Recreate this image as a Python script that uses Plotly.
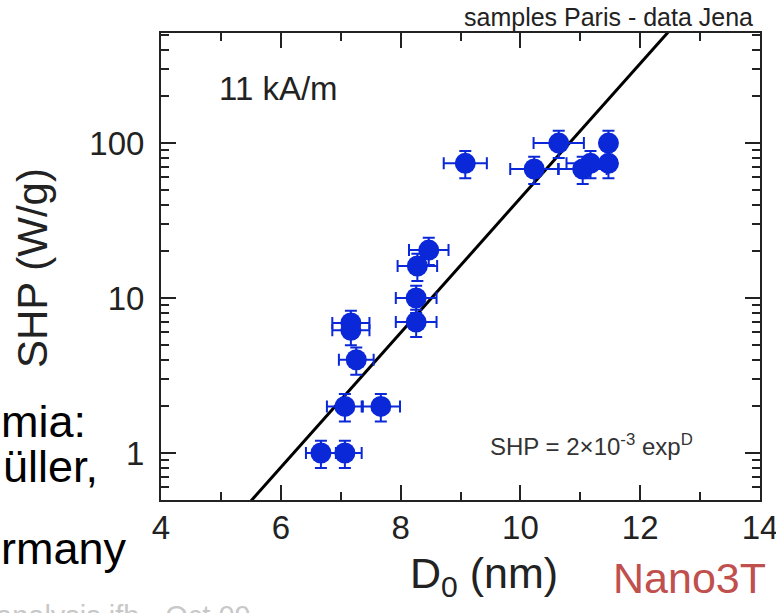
import plotly.graph_objects as go

# ── Data ──────────────────────────────────────────────────────────────────────
D0 = [6.67, 7.07, 7.07, 7.67, 7.26, 7.17, 7.17, 8.26, 8.26, 8.28, 8.47,
      9.08, 10.23, 10.64, 11.04, 11.17, 11.47, 11.47]
SHP = [1.0, 1.0, 2.0, 2.0, 4.0, 6.2, 6.9, 7.0, 10.0, 16.1, 20.4,
       74, 68, 100, 68, 74, 100, 74]
D0_ERR = [0.25, 0.28, 0.30, 0.32, 0.29, 0.31, 0.31, 0.34, 0.34, 0.33, 0.33,
          0.36, 0.40, 0.42, 0.40, 0.40, 0.0, 0.0]
SHP_ERR_PCT = 20

FIT_D = [5.5, 12.5]
FIT_SHP = [0.49, 537]

X_TICKS = [4, 6, 8, 10, 12, 14]
Y_TICKS = [1, 10, 100]

BLUE = "#0a28d8"
INK = "#222222"
FONT = "Arial, Liberation Sans, sans-serif"

# plot area in pixels
L, R, T, B = 161, 16, 33, 113
W, H = 776, 613
PW, PH = W - L - R, H - T - B


def px(x):
    return (x - L) / PW


def py(y):
    return (H - B - y) / PH


fig = go.Figure()

fig.add_trace(go.Scatter(
    x=FIT_D, y=FIT_SHP, mode="lines",
    line=dict(color="black", width=3),
    hoverinfo="skip", showlegend=False,
))

fig.add_trace(go.Scatter(
    x=D0, y=SHP, mode="markers",
    marker=dict(color=BLUE, size=21, line=dict(width=0)),
    error_x=dict(type="data", array=D0_ERR, color=BLUE, thickness=2, width=6),
    error_y=dict(type="percent", value=SHP_ERR_PCT, color=BLUE, thickness=2, width=6),
    showlegend=False,
))

axis_common = dict(
    showline=True, linecolor=INK, linewidth=2, automargin=False,
    mirror="allticks", ticks="inside", tickcolor=INK, tickwidth=2, ticklen=15,
    showgrid=False, zeroline=False, ticklabeloverflow="allow",
    tickfont=dict(family=FONT, size=33, color=INK),
)

fig.update_xaxes(
    range=[4, 14], tickvals=X_TICKS, ticklabelstandoff=-3,
    minor=dict(dtick=1, ticks="inside", ticklen=8, tickcolor=INK, tickwidth=2),
    **axis_common,
)
fig.update_yaxes(
    type="log", range=[-0.303, 2.71], tickvals=Y_TICKS, ticklabelstandoff=8,
    minor=dict(dtick="D1", ticks="inside", ticklen=8, tickcolor=INK, tickwidth=2),
    **axis_common,
)

notes = [
    # text, x px, y px, size, color, anchor
    ("samples Paris - data Jena", 755, 17, 25, INK, "right"),
    ("11 kA/m", 217, 88, 33, INK, "left"),
    ("SHP = 2×10<sup>-3</sup> exp<sup>D</sup>", 695, 445, 24, "#333333", "right"),
    ("D<sub>0</sub> (nm)", 408, 576, 43, INK, "left"),
    ("Nano3T", 768, 578, 43, "#c0504d", "right"),
    ("mia:", 88, 421, 45, "black", "right"),
    ("üller,", 100, 466, 45, "black", "right"),
    ("rmany", 129, 548, 45, "black", "right"),
    ("analysis ifb - Oct 09", -6, 616, 29, "#c8c8c8", "left"),
]
for text, x, y, size, color, anchor in notes:
    fig.add_annotation(
        text=text, x=px(x), y=py(y), xref="paper", yref="paper",
        xanchor=anchor, yanchor="middle", showarrow=False,
        font=dict(family=FONT, size=size, color=color),
    )

fig.add_annotation(
    text="SHP (W/g)", x=px(32), y=py(268), xref="paper", yref="paper",
    xanchor="center", yanchor="middle", textangle=-90, showarrow=False,
    font=dict(family=FONT, size=42, color=INK),
)

fig.update_layout(
    width=W, height=H,
    margin=dict(l=L, r=R, t=T, b=B),
    paper_bgcolor="white", plot_bgcolor="white",
    font=dict(family=FONT, color=INK),
)

# drop the browser's default body margin so the figure sits at the page corner
fig.write_html("out.html", config={"displayModeBar": False},
               post_script="document.body.style.margin='0';")
